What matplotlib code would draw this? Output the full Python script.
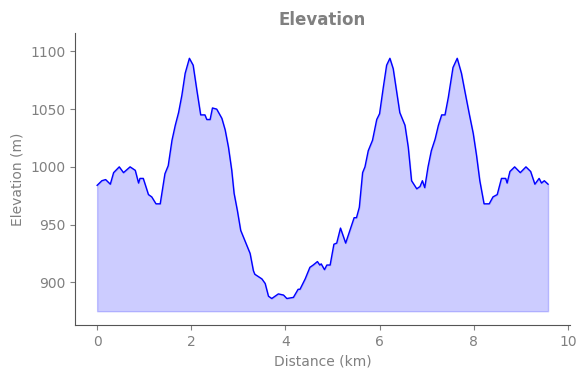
import matplotlib
matplotlib.use('Agg')
import matplotlib.pyplot as plt

# profile
distance_km = [0.00, 0.10, 0.18, 0.28, 0.35, 0.47, 0.56, 0.70, 0.81, 0.88, 0.91, 0.98,
               1.09, 1.16, 1.25, 1.34, 1.44, 1.51, 1.59, 1.66, 1.73, 1.80, 1.87, 1.96,
               2.04, 2.12, 2.20, 2.29, 2.33, 2.40, 2.45, 2.54, 2.65, 2.72, 2.79, 2.86,
               2.91, 2.98, 3.05, 3.14, 3.25, 3.32, 3.35, 3.50, 3.57, 3.64, 3.71, 3.85,
               3.96, 4.03, 4.17, 4.27, 4.31, 4.42, 4.52, 4.59, 4.68, 4.73, 4.76, 4.83,
               4.88, 4.95, 5.03, 5.09, 5.17, 5.28, 5.37, 5.46, 5.51, 5.57, 5.64, 5.69,
               5.76, 5.80, 5.85, 5.94, 6.00, 6.08, 6.15, 6.22, 6.29, 6.36, 6.43, 6.54,
               6.61, 6.68, 6.79, 6.86, 6.91, 6.96, 7.03, 7.10, 7.18, 7.25, 7.32, 7.39,
               7.46, 7.56, 7.65, 7.74, 7.81, 7.91, 7.99, 8.06, 8.13, 8.22, 8.33, 8.41,
               8.50, 8.59, 8.68, 8.71, 8.77, 8.87, 8.99, 9.11, 9.21, 9.30, 9.39, 9.44,
               9.50, 9.58]
elevation_m = [984, 988, 989, 985, 995, 1000, 995, 1000, 997, 986, 990, 990,
               976, 974, 968, 968, 994, 1001, 1023, 1036, 1047, 1062, 1081, 1094,
               1088, 1066, 1045, 1045, 1041, 1041, 1051, 1050, 1042, 1032, 1017, 997,
               977, 962, 945, 936, 925, 910, 907, 903, 899, 888, 886, 890,
               889, 886, 887, 894, 894, 903, 913, 915, 918, 915, 916, 911,
               915, 915, 933, 934, 947, 934, 945, 956, 956, 965, 995, 1000,
               1014, 1018, 1023, 1041, 1046, 1069, 1088, 1094, 1085, 1066, 1047, 1036,
               1017, 988, 981, 983, 988, 982, 1000, 1014, 1024, 1036, 1045, 1045,
               1060, 1086, 1094, 1081, 1066, 1045, 1029, 1010, 988, 968, 968, 974,
               976, 990, 990, 986, 996, 1000, 995, 1000, 996, 985, 990, 986,
               988, 985]
baseline_m = 875

grey = '#808080'

fig = plt.figure(figsize=(5.86, 3.78), dpi=100)
ax = fig.add_axes([0.128, 0.140, 0.845, 0.773])

ax.fill_between(distance_km, elevation_m, baseline_m, color='blue', alpha=0.2)
ax.plot(distance_km, elevation_m, color='blue', linewidth=1)

ax.set_ylim(863, 1116)
ax.set_xlim(-0.47, 10.05)
ax.set_xticks([0, 2, 4, 6, 8, 10])
ax.set_yticks([900, 950, 1000, 1050, 1100])

ax.set_title('Elevation', color=grey, fontweight='bold', fontsize=12)
ax.set_xlabel('Distance (km)', color=grey)
ax.set_ylabel('Elevation (m)', color=grey)
ax.tick_params(colors=grey, labelcolor=grey)
for side in ['top', 'right']:
    ax.spines[side].set_visible(False)
for side in ['left', 'bottom']:
    ax.spines[side].set_color('#555555')

plt.savefig('out.png', dpi=100)
plt.close()
